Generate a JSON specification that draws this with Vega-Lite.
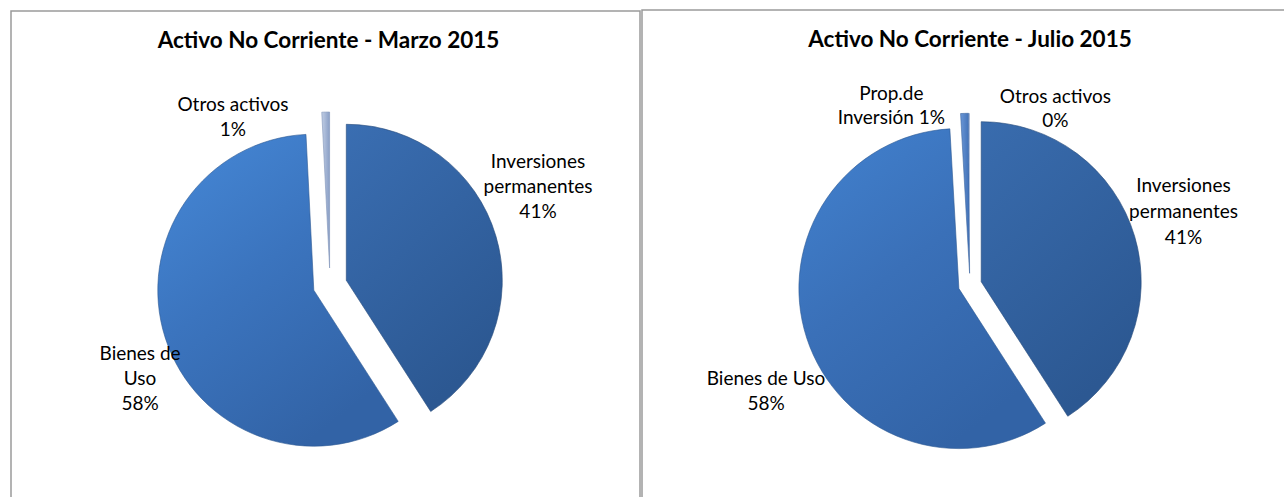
{
  "$schema": "https://vega.github.io/schema/vega-lite/v6.json",
  "padding": {"left": 10, "top": 9, "right": 0, "bottom": 0},
  "background": "white",
  "config": {
    "view": {"stroke": null},
    "concat": {"spacing": 0},
    "font": "Lato",
    "text": {"font": "Lato"}
  },
  "spacing": 0,
  "datasets": {
    "marzo": [
      {"name": "Inversiones permanentes", "value": 40.9, "order": 1, "label": "Inversiones\npermanentes\n41%"},
      {"name": "Bienes de Uso", "value": 58.3, "order": 2, "label": "Bienes de\nUso\n58%"},
      {"name": "Otros activos", "value": 0.8, "order": 3, "label": "Otros activos\n1%"}
    ],
    "julio": [
      {"name": "Inversiones permanentes", "value": 40.9, "order": 1, "label": "Inversiones\npermanentes\n41%"},
      {"name": "Bienes de Uso", "value": 58.2, "order": 2, "label": "Bienes de Uso\n58%"},
      {"name": "Prop.de Inversión", "value": 0.8, "order": 3, "label": "Prop.de\nInversión 1%"},
      {"name": "Otros activos", "value": 0.1, "order": 4, "label": "Otros activos\n0%"}
    ],
    "frame": [{"panel": "frame"}]
  },
  "hconcat": [
    {
      "width": 629,
      "height": 546,
      "data": {"name": "marzo"},
      "title": {"text": "Activo No Corriente - Marzo 2015", "frame": "group", "offset": -42, "fontSize": 22.5, "fontWeight": "bold", "font": "Lato", "color": "#000000", "anchor": "middle", "dx": 3},
      "layer": [
        {
          "data": {"name": "frame"},
          "mark": {"type": "rect", "filled": false, "stroke": "#9a9a9a", "strokeWidth": 1.5}
        },
        {
          "encoding": {
            "theta": {"field": "value", "type": "quantitative", "stack": true},
            "order": {"field": "order", "type": "quantitative"},
            "detail": {"field": "name", "type": "nominal"}
          },
          "layer": [
            {
              "mark": {"type": "arc", "outerRadius": 156, "xOffset": -11.7, "yOffset": 6.2, "stroke": "#2c5892", "strokeWidth": 1, "strokeOpacity": 0.6,
                "fill": {"gradient": "linear", "x1": 0, "y1": 0, "x2": 0.6, "y2": 1, "stops": [{"offset": 0, "color": "#4689d8"}, {"offset": 0.5, "color": "#3b74be"}, {"offset": 1, "color": "#3263a6"}]}},
              "encoding": {"opacity": {"condition": {"test": "datum.name === 'Bienes de Uso'", "value": 1}, "value": 0}}
            },
            {
              "mark": {"type": "arc", "outerRadius": 156, "xOffset": 20.8, "yOffset": -3.7, "stroke": "#24497a", "strokeWidth": 1, "strokeOpacity": 0.6,
                "fill": {"gradient": "linear", "x1": 0, "y1": 0, "x2": 0.5, "y2": 1, "stops": [{"offset": 0, "color": "#3a6eb2"}, {"offset": 1, "color": "#2c5892"}]}},
              "encoding": {"opacity": {"condition": {"test": "datum.name === 'Inversiones permanentes'", "value": 1}, "value": 0}}
            },
            {
              "mark": {"type": "arc", "outerRadius": 156, "xOffset": 4.1, "yOffset": -16, "stroke": "#7f93b8", "strokeWidth": 0.6,
                "fill": {"gradient": "linear", "x1": 0, "y1": 0, "x2": 1, "y2": 0, "stops": [{"offset": 0, "color": "#c0cde4"}, {"offset": 1, "color": "#8a9fc6"}]}},
              "encoding": {"opacity": {"condition": {"test": "datum.name === 'Otros activos'", "value": 1}, "value": 0}}
            },
            {
              "mark": {"type": "text", "radius": 200, "dx": 5, "dy": 9, "fontSize": 19, "lineHeight": 25, "lineBreak": "\n", "align": "center", "baseline": "middle", "color": "#000000"},
              "encoding": {"text": {"field": "label"}, "opacity": {"condition": {"test": "datum.name === 'Bienes de Uso'", "value": 1}, "value": 0}}
            },
            {
              "mark": {"type": "text", "radius": 160, "dx": 59, "dy": -77, "fontSize": 19, "lineHeight": 25, "lineBreak": "\n", "align": "center", "baseline": "middle", "color": "#000000"},
              "encoding": {"text": {"field": "label"}, "opacity": {"condition": {"test": "datum.name === 'Inversiones permanentes'", "value": 1}, "value": 0}}
            },
            {
              "mark": {"type": "text", "radius": 180, "dx": -88, "dy": 1, "fontSize": 19, "lineHeight": 25, "lineBreak": "\n", "align": "center", "baseline": "middle", "color": "#000000"},
              "encoding": {"text": {"field": "label"}, "opacity": {"condition": {"test": "datum.name === 'Otros activos'", "value": 1}, "value": 0}}
            }
          ]
        }
      ]
    },
    {
      "width": 656,
      "height": 548,
      "data": {"name": "julio"},
      "title": {"text": "Activo No Corriente - Julio 2015", "frame": "group", "offset": -42, "fontSize": 22.5, "fontWeight": "bold", "font": "Lato", "color": "#000000", "anchor": "middle"},
      "layer": [
        {
          "data": {"name": "frame"},
          "mark": {"type": "rect", "filled": false, "stroke": "#9a9a9a", "strokeWidth": 1.5, "yOffset": -1}
        },
        {
          "encoding": {
            "theta": {"field": "value", "type": "quantitative", "stack": true},
            "order": {"field": "order", "type": "quantitative"},
            "detail": {"field": "name", "type": "nominal"}
          },
          "layer": [
            {
              "mark": {"type": "arc", "outerRadius": 160, "xOffset": -11.1, "yOffset": 3.6, "stroke": "#2c5892", "strokeWidth": 1, "strokeOpacity": 0.6,
                "fill": {"gradient": "linear", "x1": 0, "y1": 0, "x2": 0.6, "y2": 1, "stops": [{"offset": 0, "color": "#4282d0"}, {"offset": 0.5, "color": "#3a70b8"}, {"offset": 1, "color": "#3263a6"}]}},
              "encoding": {"opacity": {"condition": {"test": "datum.name === 'Bienes de Uso'", "value": 1}, "value": 0}}
            },
            {
              "mark": {"type": "arc", "outerRadius": 160, "xOffset": 11.2, "yOffset": -3.3, "stroke": "#24497a", "strokeWidth": 1, "strokeOpacity": 0.6,
                "fill": {"gradient": "linear", "x1": 0, "y1": 0, "x2": 0.5, "y2": 1, "stops": [{"offset": 0, "color": "#396cae"}, {"offset": 1, "color": "#2c5892"}]}},
              "encoding": {"opacity": {"condition": {"test": "datum.name === 'Inversiones permanentes'", "value": 1}, "value": 0}}
            },
            {
              "mark": {"type": "arc", "outerRadius": 160, "xOffset": -0.4, "yOffset": -11.7, "stroke": "#3a64a0", "strokeWidth": 0.6,
                "fill": {"gradient": "linear", "x1": 0, "y1": 0, "x2": 1, "y2": 0, "stops": [{"offset": 0, "color": "#6a96d6"}, {"offset": 1, "color": "#3f6fb5"}]}},
              "encoding": {"opacity": {"condition": {"test": "datum.name === 'Prop.de Inversión'", "value": 1}, "value": 0}}
            },
            {
              "mark": {"type": "arc", "outerRadius": 160, "xOffset": 0, "yOffset": -11.7, "fill": "#a8b8d8"},
              "encoding": {"opacity": {"condition": {"test": "datum.name === 'Otros activos'", "value": 1}, "value": 0}}
            },
            {
              "mark": {"type": "text", "radius": 215, "dx": 0.5, "dy": 28, "fontSize": 19, "lineHeight": 25, "lineBreak": "\n", "align": "center", "baseline": "middle", "color": "#000000"},
              "encoding": {"text": {"field": "label"}, "opacity": {"condition": {"test": "datum.name === 'Bienes de Uso'", "value": 1}, "value": 0}}
            },
            {
              "mark": {"type": "text", "radius": 160, "dx": 60, "dy": -54, "fontSize": 19, "lineHeight": 26, "lineBreak": "\n", "align": "center", "baseline": "middle", "color": "#000000"},
              "encoding": {"text": {"field": "label"}, "opacity": {"condition": {"test": "datum.name === 'Inversiones permanentes'", "value": 1}, "value": 0}}
            },
            {
              "mark": {"type": "text", "radius": 180, "dx": -73, "dy": -11.5, "fontSize": 19, "lineHeight": 24, "lineBreak": "\n", "align": "center", "baseline": "middle", "color": "#000000"},
              "encoding": {"text": {"field": "label"}, "opacity": {"condition": {"test": "datum.name === 'Prop.de Inversión'", "value": 1}, "value": 0}}
            },
            {
              "mark": {"type": "text", "radius": 180, "dx": 86, "dy": -8, "fontSize": 19, "lineHeight": 24, "lineBreak": "\n", "align": "center", "baseline": "middle", "color": "#000000"},
              "encoding": {"text": {"field": "label"}, "opacity": {"condition": {"test": "datum.name === 'Otros activos'", "value": 1}, "value": 0}}
            }
          ]
        }
      ]
    }
  ]
}
